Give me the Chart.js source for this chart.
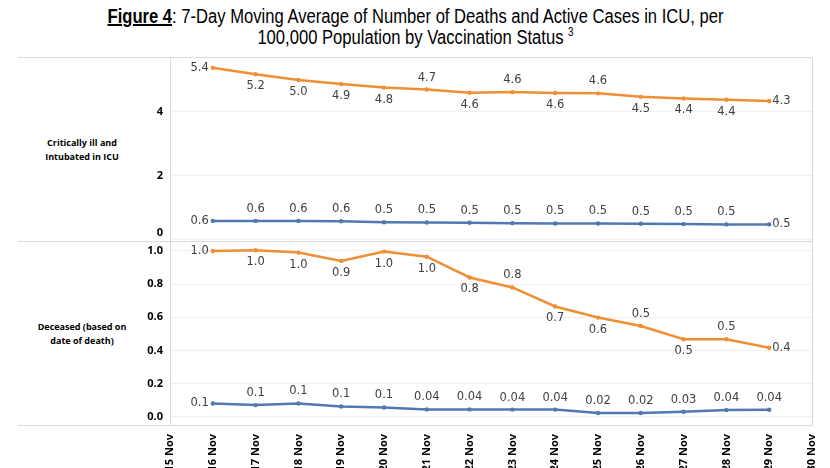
<!DOCTYPE html>
<html>
<head>
<meta charset="utf-8">
<script src="https://cdn.jsdelivr.net/npm/chart.js@4.4.1/dist/chart.umd.min.js"></script>
<style>
html, body { margin: 0; padding: 0; width: 830px; height: 468px; overflow: hidden; background: #fff; }
#wrap { position: absolute; left: 0; top: 0; width: 830px; height: 480px; }
.title { position: absolute; left: 0; top: 6px; width: 830px; text-align: center; line-height: 21px;
  font-family: "Liberation Sans", Arial, sans-serif; font-size: 20px; color: #000;
  transform: scaleX(0.83); transform-origin: 418px 0; }
.title sup { font-size: 12px; vertical-align: 8px; line-height: 0; }
.side { position: absolute; left: 12px; width: 140px; text-align: center; line-height: 14px;
  font-family: "Open Sans", sans-serif; font-weight: bold; font-size: 9px; color: #000; }
</style>
</head>
<body>
<div class="title"><b><u>Figure 4</u></b>: 7-Day Moving Average of Number of Deaths and Active Cases in ICU, per<br>100,000 Population by Vaccination Status <sup>3</sup></div>
<div class="side" style="top:136px">Critically ill and<br>Intubated in ICU</div>
<div class="side" style="top:320px">Deceased (based on<br>date of death)</div>
<div id="wrap"><canvas id="chart"></canvas></div>
<script>
// x categories (first and last have no data)
const days = ['15 Nov', '16 Nov', '17 Nov', '18 Nov', '19 Nov', '20 Nov', '21 Nov', '22 Nov',
              '23 Nov', '24 Nov', '25 Nov', '26 Nov', '27 Nov', '28 Nov', '29 Nov', '30 Nov'];

// Critically ill and intubated in ICU, per 100,000
const icuOrange = [null, 5.38, 5.18, 5.0, 4.87, 4.76, 4.70, 4.60, 4.62, 4.59, 4.58, 4.47, 4.42, 4.38, 4.34, null];
const icuBlue   = [null, 0.58, 0.58, 0.58, 0.57, 0.54, 0.53, 0.52, 0.51, 0.50, 0.50, 0.49, 0.48, 0.47, 0.47, null];

// Deceased (based on date of death), per 100,000
const deathOrange = [null, 1.0, 1.004, 0.99, 0.94, 0.996, 0.965, 0.84, 0.78, 0.665, 0.598, 0.547, 0.467, 0.467, 0.416, null];
const deathBlue   = [null, 0.08, 0.07, 0.08, 0.062, 0.056, 0.044, 0.044, 0.043, 0.043, 0.022, 0.022, 0.03, 0.04, 0.042, null];

// y ticks of each panel
const icuTicks = [0, 2, 4];
const deathTicks = [0, 0.2, 0.4, 0.6, 0.8, 1.0];

// where each value label sits: l(eft), r(ight), a(bove), b(elow)
const posIcuOrange   = ['', 'l','b','b','b','b','a','b','a','b','a','b','b','b','r', ''];
const posIcuBlue     = ['', 'l','a','a','a','a','a','a','a','a','a','a','a','a','r', ''];
const posDeathOrange = ['', 'l','b','b','b','b','b','b','a','b','b','a','b','a','r', ''];
const posDeathBlue   = ['', 'l','a','a','a','a','a','a','a','a','a','a','a','a','a', ''];

const ORANGE = '#ef8f35';
const BLUE = '#5079b3';

function fmt(v) {
    return v >= 0.05 ? v.toFixed(1) : v.toFixed(2);
}

const tickFont = { family: '"Open Sans", sans-serif', size: 11, weight: 'bold' };

// draws the value labels next to the points
const valueLabels = {
    id: 'valueLabels',
    afterDatasetsDraw(chart) {
        const ctx = chart.ctx;
        ctx.save();
        ctx.font = '11.5px "DejaVu Sans", Verdana, sans-serif';
        ctx.fillStyle = '#404040';
        chart.data.datasets.forEach((ds, di) => {
            const meta = chart.getDatasetMeta(di);
            meta.data.forEach((pt, i) => {
                const v = ds.data[i];
                if (v === null) return;
                const p = ds.labelPos[i];
                let x = pt.x, y = pt.y;
                ctx.textBaseline = 'middle';
                if (p === 'l') { ctx.textAlign = 'right'; x -= 4; }
                else if (p === 'r') { ctx.textAlign = 'left'; x += 3; }
                else if (p === 'a') { ctx.textAlign = 'center'; y -= 12; }
                else { ctx.textAlign = 'center'; y += 12; }
                ctx.fillText(fmt(v), x, y);
            });
        });
        ctx.restore();
    }
};

// frame lines around and between the two panels, plus the top panel's "0" tick
// (stacked axes clip their labels to their own box, so that one is drawn here)
const frame = {
    id: 'frame',
    beforeDatasetsDraw(chart) {
        const a = chart.chartArea;
        const yIcu = chart.scales.yIcu;
        const mid = yIcu.bottom;
        const ctx = chart.ctx;
        ctx.save();
        ctx.strokeStyle = '#d9d9d9';
        ctx.lineWidth = 1;
        ctx.beginPath();
        ctx.moveTo(18, a.top + 0.5); ctx.lineTo(a.right + 0.5, a.top + 0.5);
        ctx.lineTo(a.right + 0.5, a.bottom + 0.5); ctx.lineTo(18, a.bottom + 0.5);
        ctx.moveTo(18, mid + 0.5); ctx.lineTo(a.right, mid + 0.5);
        ctx.moveTo(a.left + 0.5, a.top); ctx.lineTo(a.left + 0.5, a.bottom);
        ctx.stroke();
        ctx.fillStyle = '#000';
        ctx.font = 'bold 11px "Open Sans", sans-serif';
        ctx.textAlign = 'right';
        ctx.textBaseline = 'middle';
        ctx.fillText('0', a.left - 7, yIcu.getPixelForValue(0) - 7);
        ctx.restore();
    }
};

function line(data, color, axis, pos) {
    return {
        data: data, yAxisID: axis, labelPos: pos,
        borderColor: color, backgroundColor: color,
        borderWidth: 2.5, pointRadius: 2.2, pointBorderWidth: 0,
        tension: 0, spanGaps: false
    };
}

new Chart(document.getElementById('chart'), {
    type: 'line',
    data: {
        labels: days,
        datasets: [
            line(icuOrange, ORANGE, 'yIcu', posIcuOrange),
            line(icuBlue, BLUE, 'yIcu', posIcuBlue),
            line(deathOrange, ORANGE, 'yDeath', posDeathOrange),
            line(deathBlue, BLUE, 'yDeath', posDeathBlue)
        ]
    },
    options: {
        responsive: true,
        maintainAspectRatio: false,
        animation: false,
        layout: { padding: { left: 130, top: 57, right: 18, bottom: 0 } },
        plugins: { legend: { display: false }, tooltip: { enabled: false } },
        scales: {
            x: {
                type: 'category',
                offset: false,
                grid: { display: false },
                border: { display: false },
                afterFit: s => { s.height = 55; },
                ticks: { autoSkip: false, minRotation: 90, maxRotation: 90, padding: 1, color: '#000',
                         font: { family: '"Open Sans", sans-serif', size: 11, weight: 'bold' } }
            },
            yDeath: {
                position: 'left', stack: 'panels', stackWeight: 1,
                min: -0.05, max: 1.06,
                afterFit: s => { s.width = 40; },
                afterBuildTicks: s => { s.ticks = deathTicks.map(v => ({ value: v })); },
                border: { display: false },
                grid: { color: '#eeeeee', drawTicks: false },
                ticks: { padding: 7, color: '#000', font: tickFont, callback: v => v.toFixed(1) }
            },
            yIcu: {
                position: 'left', stack: 'panels', stackWeight: 1,
                min: -0.05, max: 5.72,
                afterFit: s => { s.width = 40; },
                afterBuildTicks: s => { s.ticks = icuTicks.map(v => ({ value: v })); },
                border: { display: false },
                grid: { color: '#f0f0f0', drawTicks: false },
                ticks: { padding: 7, color: '#000', font: tickFont, callback: v => (v === 0 ? '' : String(v)) }
            }
        }
    },
    plugins: [frame, valueLabels]
});
</script>
</body>
</html>
